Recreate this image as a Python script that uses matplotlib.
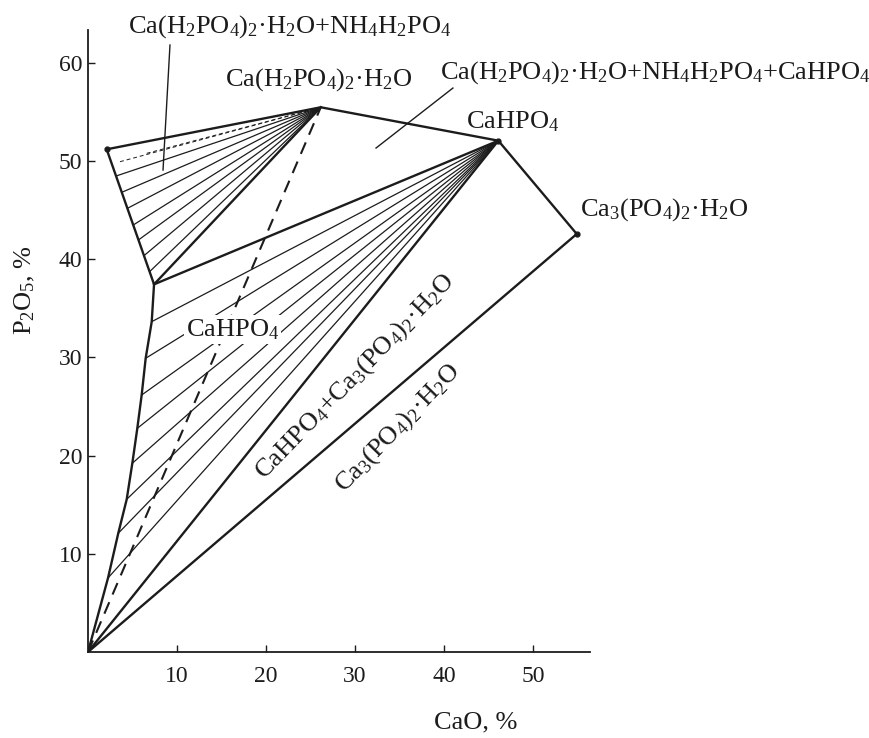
import matplotlib
matplotlib.use("Agg")
import matplotlib.pyplot as plt

plt.rcParams['font.family'] = ['Liberation Serif', 'DejaVu Serif']
plt.rcParams['mathtext.fontset'] = 'custom'
plt.rcParams['mathtext.rm'] = 'Liberation Serif'
plt.rcParams['mathtext.it'] = 'Liberation Serif:italic'
plt.rcParams['mathtext.bf'] = 'Liberation Serif:bold'

# Puntos de las fases (CaO %, P2O5 %)
pt_A = (2.10, 51.19)    # extremo izquierdo superior
pt_B = (26.15, 55.47)   # Ca(H2PO4)2*H2O
pt_C = (46.10, 52.07)   # CaHPO4
pt_D = (54.91, 42.57)   # Ca3(PO4)2*H2O
pt_E = (7.42, 37.44)    # punto invariante
origen = (0.0, 0.0)

# Curva de saturacion inferior (de E hasta el origen)
curva_x = [7.42, 7.16, 6.48, 6.03, 5.54, 4.98, 4.35, 3.40, 2.25, 0.0]
curva_y = [37.44, 33.64, 29.91, 26.17, 22.78, 19.22, 15.55, 12.09, 7.54, 0.0]

# Lineas de union hacia Ca(H2PO4)2*H2O (parten de la curva A-E)
union_B_x = [3.15, 3.79, 4.43, 5.08, 5.67, 6.29, 6.92]
union_B_y = [48.47, 46.81, 45.18, 43.48, 41.96, 40.36, 38.73]
union_B_disc_x = [3.60, 6.60]
union_B_disc_y = [49.93, 50.78]

# Lineas de union hacia CaHPO4 (parten de la curva inferior)
union_C_x = curva_x[1:-1]
union_C_y = curva_y[1:-1]

color = '#1c1c1c'
lw_gruesa = 1.7
lw_fina = 0.9

fig = plt.figure(figsize=(8.69, 7.38), dpi=100)
ax = fig.add_axes([88 / 869, 86 / 738, 502 / 869, 622 / 738])
ax.set_xlim(0, 56.4)
ax.set_ylim(0, 63.34)

# lineas de union finas
for x, y in zip(union_B_x, union_B_y):
    ax.plot([x, pt_B[0]], [y, pt_B[1]], color=color, lw=lw_fina)
for x, y in zip(union_B_disc_x, union_B_disc_y):
    ax.plot([x, pt_B[0]], [y, pt_B[1]], color=color, lw=0.7, ls=(0, (4, 3)))
for x, y in zip(union_C_x, union_C_y):
    ax.plot([x, pt_C[0]], [y, pt_C[1]], color=color, lw=lw_fina)

# contorno del diagrama
ax.plot([pt_A[0], pt_B[0], pt_C[0], pt_D[0], origen[0]],
        [pt_A[1], pt_B[1], pt_C[1], pt_D[1], origen[1]], color=color, lw=lw_gruesa)
ax.plot([pt_A[0], pt_E[0], pt_B[0]], [pt_A[1], pt_E[1], pt_B[1]], color=color, lw=lw_gruesa)
ax.plot([pt_E[0], pt_C[0]], [pt_E[1], pt_C[1]], color=color, lw=lw_gruesa)
ax.plot([origen[0], pt_C[0]], [origen[1], pt_C[1]], color=color, lw=lw_gruesa)
ax.plot(curva_x, curva_y, color=color, lw=lw_gruesa)

# linea discontinua hacia Ca(H2PO4)2*H2O
ax.plot([origen[0], pt_B[0]], [origen[1], pt_B[1]], color=color, lw=1.5,
        ls=(0, (6, 4)))

ax.plot([pt_A[0], pt_C[0], pt_D[0]], [pt_A[1], pt_C[1], pt_D[1]], 'o',
        color=color, ms=3.5)

# lineas guia de las etiquetas
ax.plot([9.21, 8.43], [61.81, 49.08], color=color, lw=1.0)
ax.plot([41.0, 32.36], [57.43, 51.32], color=color, lw=1.0)

fs = 19
ax.text(4.49, 63.65, 'Ca(H$_2$PO$_4$)$_2$·H$_2$O+NH$_4$H$_2$PO$_4$', fontsize=fs,
        va='center', ha='left', color=color)
ax.text(15.39, 58.25, 'Ca(H$_2$PO$_4$)$_2$·H$_2$O', fontsize=fs,
        va='center', ha='left', color=color)
ax.text(39.55, 58.96, 'Ca(H$_2$PO$_4$)$_2$·H$_2$O+NH$_4$H$_2$PO$_4$+CaHPO$_4$',
        fontsize=fs, va='center', ha='left', color=color)
ax.text(42.47, 53.97, 'CaHPO$_4$', fontsize=fs, va='center', ha='left', color=color)
ax.text(55.28, 45.01, 'Ca$_3$(PO$_4$)$_2$·H$_2$O', fontsize=fs,
        va='center', ha='left', color=color)
ax.text(11.0, 32.8, 'CaHPO$_4$', fontsize=fs, va='center', ha='left', color=color,
        bbox=dict(facecolor='white', edgecolor='none', pad=1.5))
ax.text(30.0, 28.04, 'CaHPO$_4$+Ca$_3$(PO$_4$)$_2$·H$_2$O', fontsize=fs,
        rotation=46, rotation_mode='anchor', va='center', ha='center', color=color)
ax.text(34.83, 22.81, 'Ca$_3$(PO$_4$)$_2$·H$_2$O', fontsize=fs,
        rotation=46, rotation_mode='anchor', va='center', ha='center', color=color)

# ejes
ax.spines['top'].set_visible(False)
ax.spines['right'].set_visible(False)
for s in ['left', 'bottom']:
    ax.spines[s].set_linewidth(1.3)
    ax.spines[s].set_color(color)
ax.set_xticks([10, 20, 30, 40, 50])
ax.set_yticks([10, 20, 30, 40, 50, 60])
ax.tick_params(axis='both', direction='in', length=5, width=1, colors=color,
               labelsize=17)
ax.tick_params(axis='x', pad=10)
ax.tick_params(axis='y', pad=4)

ax.set_xlabel('CaO, %', fontsize=fs, va='center', ha='center', color=color)
ax.xaxis.set_label_coords(0.773, -0.114)
ax.set_ylabel('P$_2$O$_5$, %', fontsize=fs, va='center', ha='center', color=color)
ax.yaxis.set_label_coords(-0.125, 0.582)

fig.savefig('out.png', dpi=100)
